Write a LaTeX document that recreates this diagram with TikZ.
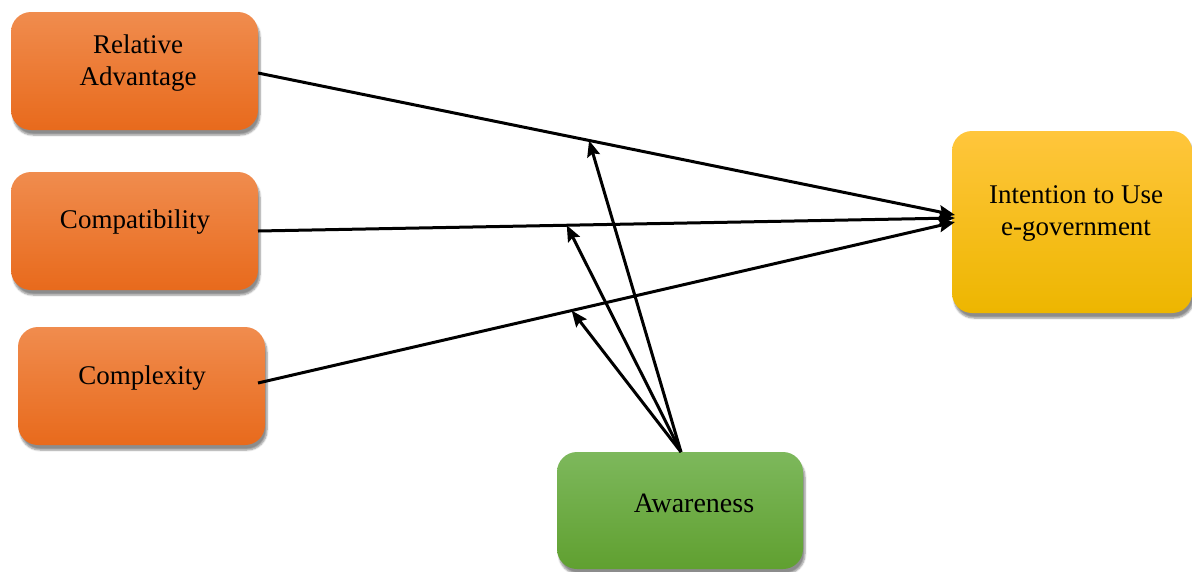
\documentclass[tikz,border=0pt]{standalone}
\usepackage{fontspec}
\setmainfont{Liberation Serif}
\usetikzlibrary{arrows.meta,shadows.blur,calc}
\definecolor{orT}{HTML}{F08C4E}
\definecolor{orB}{HTML}{E86A1C}
\definecolor{yeT}{HTML}{FFC63C}
\definecolor{yeB}{HTML}{EDB600}
\definecolor{grT}{HTML}{7DB85C}
\definecolor{grB}{HTML}{60A030}
\tikzset{
  box/.style={rectangle, rounded corners=20pt, inner sep=0pt, align=center,
    blur shadow={shadow xshift=2pt, shadow yshift=-5pt, shadow blur steps=6, shadow opacity=45}},
  orbox/.style={box, top color=orT, bottom color=orB, minimum width=247pt, minimum height=118pt},
  yebox/.style={box, top color=yeT, bottom color=yeB, minimum width=240pt, minimum height=182pt},
  grbox/.style={box, top color=grT, bottom color=grB, minimum width=246pt, minimum height=117pt},
  lbl/.style={inner sep=0pt, align=center, font=\fontsize{27}{32}\selectfont},
  conn/.style={line width=3pt, -{Stealth[length=16pt,width=13pt,inset=2.5pt]}}
}
\begin{document}
\begin{tikzpicture}[x=1pt,y=1pt]
\useasboundingbox (0,0) rectangle (1192,-571);
\node[orbox] (ra) at (134.5,-71) {};
\node[lbl] (ral) at (138,-63) {Relative\\Advantage};
\node[orbox] (co) at (134.5,-231) {};
\node[lbl] (col) at (135,-222) {Compatibility};
\node[orbox] (cx) at (141.5,-386) {};
\node[lbl] (cxl) at (142,-378) {Complexity};
\node[yebox] (in) at (1072,-222) {};
\node[lbl] (inl) at (1076,-213) {Intention to Use\\e-government};
\node[grbox] (aw) at (680,-510.5) {};
\node[lbl,font=\fontsize{28}{32}\selectfont] (awl) at (694,-503) {Awareness};
\coordinate (t) at (955,-218);
\coordinate (ras) at (258,-73);
\coordinate (cos) at (258,-231);
\coordinate (cxs) at (258,-383);
\coordinate (aws) at (681,-452);
\coordinate (t1) at (955,-215);
\coordinate (t3) at (955,-222);
\draw[conn] (ras) -- (t1);
\draw[conn] (cos) -- (t);
\draw[conn] (cxs) -- (t3);
\path (ras) -- (t1) coordinate[pos=0.475] (m1);
\path (cos) -- (t) coordinate[pos=0.443] (m2);
\path (cxs) -- (t3) coordinate[pos=0.45] (m3);
\draw[conn] (aws) -- (m1);
\draw[conn] (aws) -- (m2);
\draw[conn] (aws) -- (m3);
\end{tikzpicture}
\end{document}
